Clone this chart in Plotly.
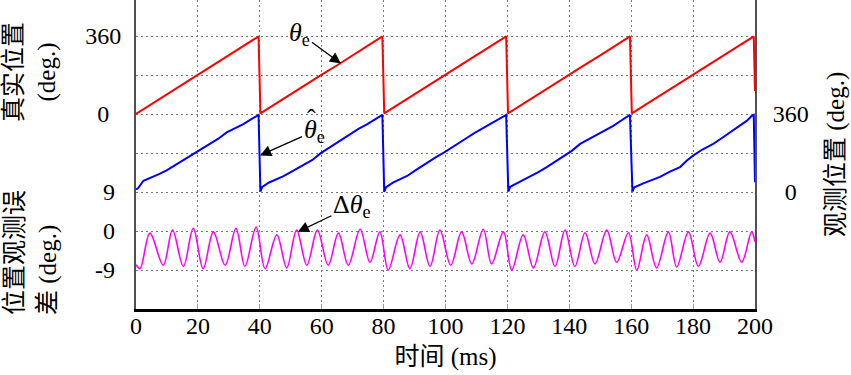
import plotly.graph_objects as go

# ---------------- data ----------------
x_ticks = [0, 20, 40, 60, 80, 100, 120, 140, 160, 180, 200]

# true electrical position (deg) - red
red_t = [0, 5, 10, 15, 20, 25, 30, 35, 39.6,
         40.2, 45, 50, 55, 60, 65, 70, 75, 79.6,
         80.2, 85, 90, 95, 100, 105, 110, 115, 119.6,
         120.2, 125, 130, 135, 140, 145, 150, 155, 159.6,
         160.2, 165, 170, 175, 180, 185, 190, 195, 199.6, 200]
red_v = [0, 45, 91, 135, 181, 226, 270, 316, 358,
         3, 47, 90, 136, 182, 225, 271, 317, 358,
         3, 46, 91, 137, 181, 226, 272, 316, 358,
         3, 47, 91, 136, 181, 227, 271, 317, 358,
         3, 46, 90, 136, 182, 226, 271, 316, 358, 106]

# observed position (deg) - blue
blue_t = [0, 0.7, 2.4, 4.2, 5.6, 7.6, 9.9, 12.0, 14.2, 16.8, 19.6, 21.8, 23.9, 26.6, 29.3, 32.0, 34.7, 37.0, 39.0, 39.6,
          40.2, 40.8, 43.0, 45.2, 47.5, 50.0, 52.2, 54.5, 57.0, 59.6, 61.8, 64.0, 66.6, 69.3, 72.0, 74.6, 77.0, 79.0, 79.6,
          80.2, 80.8, 83.0, 85.0, 87.6, 89.9, 92.0, 94.2, 96.8, 99.6, 101.8, 103.9, 106.6, 109.3, 112.0, 114.7, 117.0, 119.0, 119.6,
          120.3, 120.9, 123.0, 125.2, 127.3, 130.0, 132.7, 135.4, 138.1, 140.8, 143.5, 146.2, 148.9, 151.5, 154.2, 156.8, 159.1, 159.6,
          160.4, 161.0, 163.9, 166.5, 169.3, 172.5, 175.8, 178.0, 180.1, 183.0, 186.5, 189.2, 191.9, 194.6, 197.3, 198.9, 199.6, 200]
blue_v = [12, 18, 52, 62, 70, 84, 100, 118, 138, 160, 184, 204, 222, 246, 275, 294, 313, 334, 351, 356,
          2, 24, 44, 58, 72, 92, 110, 128, 148, 178, 198, 218, 243, 270, 292, 312, 332, 350, 356,
          1, 22, 43, 57, 74, 96, 116, 136, 160, 183, 202, 221, 247, 272, 293, 314, 333, 350, 356,
          2, 24, 40, 56, 70, 92, 115, 140, 161, 190, 222, 242, 262, 284, 305, 330, 351, 356,
          2, 22, 40, 56, 70, 94, 115, 145, 169, 196, 222, 248, 274, 300, 328, 351, 356, 45]

# position observation error (deg) - magenta (peaks / troughs)
err_t = [0, 1.3, 4.5, 8.8, 11.8, 15.3, 18.5, 21.7, 25.0, 28.8, 32.3, 35.2, 38.8,
         41.7, 45.5, 48.7, 51.9, 55.2, 58.6, 62.1, 65.4, 68.6, 72.4, 75.6, 78.8,
         81.5, 85.3, 88.5, 91.8, 95.0, 98.2, 101.7, 105.2, 108.5, 112.2, 114.9, 118.7,
         121.4, 125.1, 128.4, 132.1, 135.4, 138.6, 141.8, 145.1, 148.3, 152.1, 155.3, 159.1,
         161.8, 165.0, 168.2, 172.0, 174.7, 178.5, 181.7, 185.5, 188.7, 191.9, 195.7, 198.9, 200]
err_v = [-7.8, -8.7, -0.5, -7.9, 0.2, -8.2, 0.6, -8.7, -0.2, -7.9, 0.6, -8.2, 0.9,
         -8.7, -0.9, -8.5, 0.2, -7.9, 0.2, -7.9, -0.5, -7.9, 0.4, -7.2, -0.2,
         -9.0, -0.9, -8.7, -0.2, -8.2, 0.2, -7.9, -0.2, -7.6, 0.4, -7.6, -0.2,
         -9.0, -0.9, -8.5, -0.2, -8.2, 0.2, -8.2, -0.4, -7.6, 0.2, -7.2, -0.4,
         -9.0, -0.9, -8.5, -0.2, -8.3, -0.2, -8.2, -0.5, -7.2, -0.2, -7.2, -0.2, -2.5]

red_ticks = [0, 180, 360]
red_ticktext = ["\u20070\u2007", "", "360"]
blue_ticks = [0, 180, 360]
blue_ticktext = ["\u20070", "", "360"]
err_ticks = [-9, 0, 9]
err_ticktext = ["-9\u2007", "\u20070\u2007", "\u20079\u2007"]

# ---------------- figure ----------------
SERIF = "Liberation Serif, Times New Roman, Noto Sans CJK SC, serif"
GRID = dict(showgrid=True, gridcolor="#7a7a7a", gridwidth=1, griddash="2px,3px")

fig = go.Figure()
fig.add_trace(go.Scatter(x=red_t, y=red_v, mode="lines", line=dict(color="#ff0000", width=2),
                         yaxis="y", showlegend=False, hoverinfo="skip"))
fig.add_trace(go.Scatter(x=blue_t, y=blue_v, mode="lines", line=dict(color="#0000ff", width=2),
                         yaxis="y2", showlegend=False, hoverinfo="skip"))
fig.add_trace(go.Scatter(x=err_t, y=err_v, mode="lines",
                         line=dict(color="#ff00ff", width=1.6, shape="spline", smoothing=1.0),
                         yaxis="y3", showlegend=False, hoverinfo="skip"))

# channel zero markers
fig.add_trace(go.Scatter(x=[-1.1], y=[0], mode="markers", yaxis="y", cliponaxis=False,
                         marker=dict(symbol="triangle-right", size=9, color="#ff0000"),
                         showlegend=False, hoverinfo="skip"))
fig.add_trace(go.Scatter(x=[-1.1], y=[0], mode="markers", yaxis="y3", cliponaxis=False,
                         marker=dict(symbol="triangle-right", size=9, color="#ff00ff"),
                         showlegend=False, hoverinfo="skip"))
fig.add_trace(go.Scatter(x=[201.5], y=[0], mode="markers", yaxis="y2", cliponaxis=False,
                         marker=dict(symbol="triangle-left", size=9, color="#0000ff"),
                         showlegend=False, hoverinfo="skip"))

U = 309 / 39.0  # plot height in grid units

fig.update_layout(
    width=851, height=375,
    margin=dict(l=136, r=96, t=0, b=66),
    paper_bgcolor="white", plot_bgcolor="white",
    font=dict(family=SERIF, size=24, color="black"),
    xaxis=dict(range=[0, 200], tickvals=x_ticks, ticks="inside", ticklen=5, tickcolor="#9a9a9a",
               showline=True, linecolor="black", linewidth=3, zeroline=False,
               ticklabelstandoff=-7,
               title=dict(text="时间 (ms)", font=dict(size=25), standoff=10),
               **GRID),
    yaxis=dict(range=[(0 - 5) * 180, (U - 5) * 180], tickvals=red_ticks, ticktext=red_ticktext,
               side="left", ticks="", showline=True, linecolor="#505050", linewidth=2,
               zeroline=False, ticklabelstandoff=8, **GRID),
    yaxis2=dict(range=[(0 - 3) * 180, (U - 3) * 180], tickvals=blue_ticks, ticktext=blue_ticktext,
                overlaying="y", side="right", anchor="x", ticks="", showline=True,
                linecolor="#505050", linewidth=2, zeroline=False, ticklabelstandoff=11, **GRID),
    yaxis3=dict(range=[(0 - 2) * 9, (U - 2) * 9], tickvals=err_ticks, ticktext=err_ticktext,
                overlaying="y", side="left", anchor="x", ticks="", showline=False,
                zeroline=False, ticklabelstandoff=8, **GRID),
)

def px(xp):
    return (xp - 136) / 619.0

def py(yp):
    return (309 - yp) / 309.0

TITLE_FONT = dict(family=SERIF, size=25, color="black")
TITLE = dict(xref="paper", yref="paper", textangle=-90, showarrow=False,
             xanchor="center", yanchor="middle", font=TITLE_FONT)
fig.add_annotation(text="真实位置<br>(deg.)", x=px(30), y=py(72), align="center", **TITLE)
fig.add_annotation(text="位置观测误<br>差 (deg.)", x=px(32), y=py(253), align="left", **TITLE)
fig.add_annotation(text="观测位置 (deg.)", x=px(836), y=py(155), **TITLE)

ARROW = dict(showarrow=True, arrowhead=2, arrowsize=1.7, arrowwidth=1.3, arrowcolor="black",
             font=dict(family=SERIF, size=26, color="black"), axref="pixel", ayref="pixel")
fig.add_annotation(text="<i>θ</i><sub>e</sub>", x=66.2, y=233, xref="x", yref="y",
                   ax=-41, ay=-30, **ARROW)
fig.add_annotation(text="<i>θ</i><sub>e</sub>", x=40.1, y=169, xref="x", yref="y2",
                   ax=54, ay=-24, **ARROW)
# hat over the estimated theta
fig.add_annotation(text="ˆ", x=40.1, y=169, xref="x", yref="y2", showarrow=False,
                   xshift=51, yshift=37, xanchor="center", yanchor="middle",
                   font=dict(family=SERIF, size=26, color="black"))
fig.add_annotation(text="Δ<i>θ</i><sub>e</sub>", x=52.3, y=-0.2, xref="x", yref="y3",
                   ax=54, ay=-26, **ARROW)

fig.write_html("out.html", config={"displayModeBar": False},
               post_script="document.body.style.margin='0px';")
